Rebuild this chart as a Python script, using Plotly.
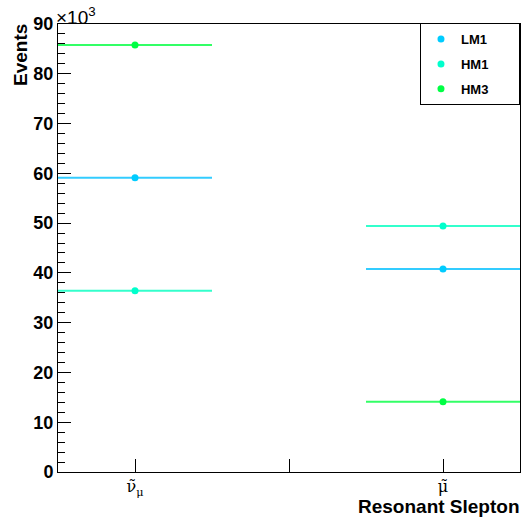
import plotly.graph_objects as go

categories = ["ν̃<sub>μ</sub>", "μ̃"]
bin_edges = [[0, 1], [2, 3]]
bin_centers = [0.5, 2.5]
bin_boundary = [1.5]
series_names = ["LM1", "HM1", "HM3"]
lm1 = [59.1, 40.8]
hm1 = [36.4, 49.4]
hm3 = [85.8, 14.1]
series_values = [lm1, hm1, hm3]
line_colors = ["#33ccff", "#33ffcc", "#33ff66"]
marker_colors = ["#00ccff", "#00ffcc", "#00ff44"]

fig = go.Figure()
pad = "\u00a0" * 7
for name, vals, lc, mc in zip(series_names, series_values, line_colors, marker_colors):
    xs, ys = [], []
    for (a, b), v in zip(bin_edges, vals):
        xs += [a, b, None]
        ys += [v, v, None]
    fig.add_trace(go.Scatter(x=xs, y=ys, mode="lines", line=dict(color=lc, width=2),
                             showlegend=False, hoverinfo="skip"))
    fig.add_trace(go.Scatter(x=bin_centers, y=vals, mode="markers", name=name + pad,
                             marker=dict(color=mc, size=7), legendgroup=name))

tick_font = dict(family="Liberation Sans", size=18, color="black", weight="bold")
title_font = dict(family="Liberation Sans", size=19, color="black", weight="bold")
fig.update_layout(
    width=522, height=523,
    margin=dict(l=58, r=2, t=24, b=51),
    plot_bgcolor="white", paper_bgcolor="white",
    showlegend=True,
    legend=dict(x=0.7835, y=1.002, xanchor="left", yanchor="top",
                bgcolor="white", bordercolor="black", borderwidth=1,
                font=dict(family="Liberation Sans", size=13, color="black", weight="bold"),
                tracegroupgap=5, itemwidth=30),
    xaxis=dict(range=[0, 3], tickvals=bin_centers, ticktext=categories,
               ticks="inside", ticklen=13, tickcolor="black", showgrid=False, zeroline=False,
               showline=True, linecolor="black", linewidth=1, mirror=True,
               tickfont=dict(family="DejaVu Serif", size=16, color="black"),
               minor=dict(tickvals=bin_boundary, ticks="inside", ticklen=13, tickcolor="black",
                          showgrid=False)),
    yaxis=dict(range=[0, 90], tickvals=list(range(0, 91, 10)), ticks="inside", ticklen=13,
               tickcolor="black", showgrid=False, zeroline=False,
               showline=True, linecolor="black", linewidth=1, mirror=True,
               tickfont=tick_font,
               minor=dict(dtick=2, ticks="inside", ticklen=7, tickcolor="black")),
    annotations=[
        dict(text="×10<sup>3</sup>", xref="paper", yref="paper", x=0, y=1,
             xanchor="left", yanchor="bottom", showarrow=False,
             font=dict(family="Liberation Sans", size=19, color="black"), xshift=-4, yshift=-6),
        dict(text="Resonant Slepton", xref="paper", yref="paper", x=1, y=0,
             xanchor="right", yanchor="top", showarrow=False, font=title_font,
             xshift=2, yshift=-22),
        dict(text="Events", xref="paper", yref="paper", x=0, y=1, textangle=-90,
             xanchor="center", yanchor="top", showarrow=False, font=title_font,
             xshift=-38, yshift=2),
    ],
)
fig.write_html("out.html")
